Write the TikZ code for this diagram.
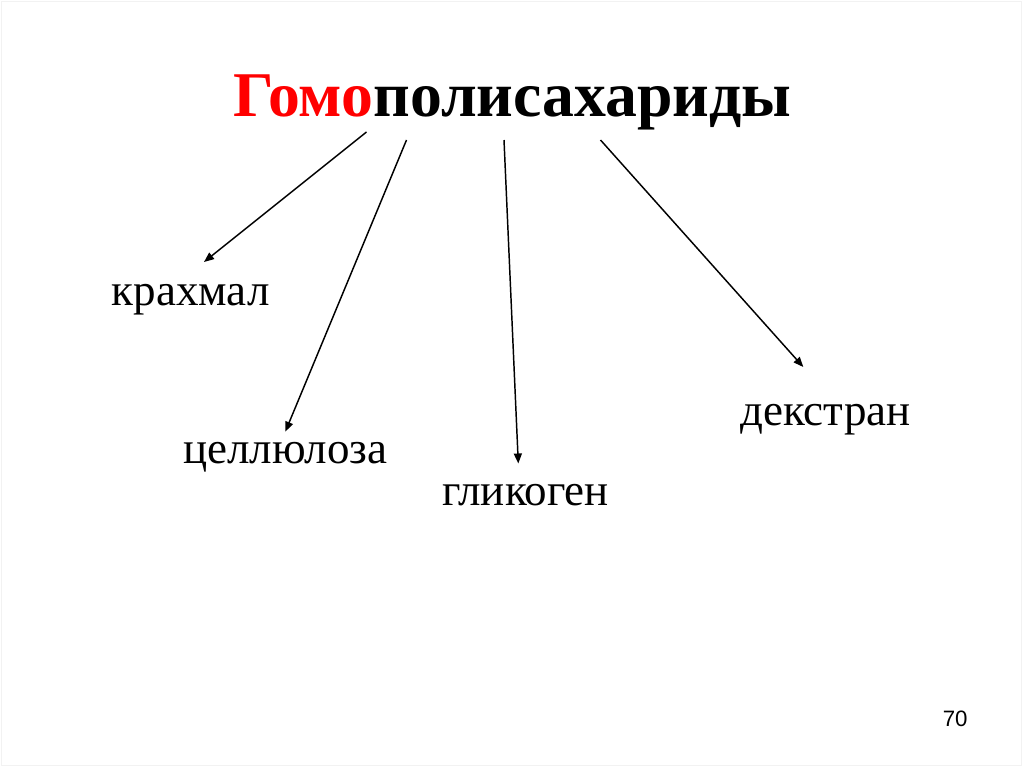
\documentclass[tikz,border=0pt]{standalone}
\usepackage{fontspec}
\setmainfont{Liberation Serif}
\newfontfamily\numfont{Liberation Sans}
\usetikzlibrary{arrows.meta}
\definecolor{titlered}{RGB}{255,0,0}
\tikzset{
  lbl/.style={anchor=base west, inner sep=0pt, font=\fontsize{33.75}{40}\selectfont},
  ttl/.style={anchor=base west, inner sep=0pt, font=\fontsize{47.8}{56}\selectfont\bfseries},
  arr/.style={line width=1.1pt, -{Triangle[length=7.5pt,width=6pt]}},
}
\begin{document}
\begin{tikzpicture}[x=0.75pt,y=-0.75pt]
\useasboundingbox (0,0) rectangle (1024,767);
\fill[white] (0,0) rectangle (1024,767);
\draw[black!5, line width=0.75pt] (1.5,1.5) rectangle (1021,765);
\node[ttl] (title) at (233,116) {\textcolor{titlered}{Гомо}полисахариды};
\node[lbl] (kr) at (111.5,305) {крахмал};
\node[lbl] (cel) at (183,463) {целлюлоза};
\node[lbl] (gl) at (442,505) {гликоген};
\node[lbl] (dx) at (740,425) {декстран};
\node[anchor=base west, inner sep=0pt, font=\numfont\fontsize{16.7}{20}\selectfont] (pn) at (942.5,726.7) {70};
\coordinate (s1) at (366.5,132);
\coordinate (s2) at (406.5,140);
\coordinate (s3) at (504,140);
\coordinate (s4) at (600.5,140);
\coordinate (e1) at (204,262);
\coordinate (e2) at (285.3,431.7);
\coordinate (e3) at (518.3,463.5);
\coordinate (e4) at (803.3,367);
\draw[arr] (s1) -- (e1);
\draw[arr] (s2) -- (e2);
\draw[arr] (s3) -- (e3);
\draw[arr] (s4) -- (e4);
\end{tikzpicture}
\end{document}
